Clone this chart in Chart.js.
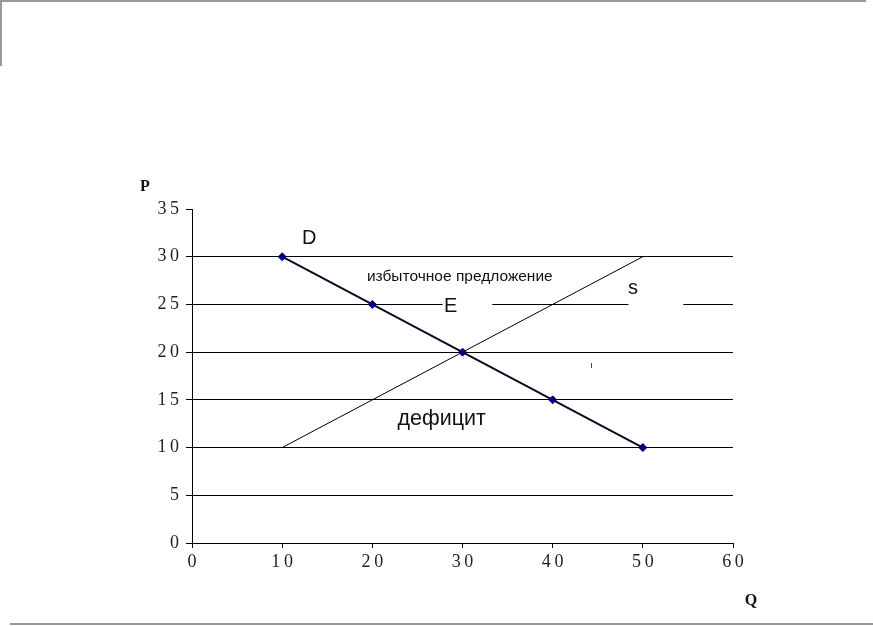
<!DOCTYPE html>
<html>
<head>
<meta charset="utf-8">
<script src="https://cdn.jsdelivr.net/npm/chart.js@4"></script>
<style>
  body { margin: 0; background: #fff; }
  #wrap { position: relative; width: 873px; height: 626px; }
  #topFrame { position: absolute; left: 0; top: 0; width: 864px; height: 64px;
              border-top: 2px solid #999; border-left: 2px solid #999; }
  #bottomLine { position: absolute; left: 10px; top: 623px; width: 863px; height: 0;
                border-top: 2px solid #999; }
  canvas { position: absolute; left: 0; top: 0; }
</style>
</head>
<body>
<div id="wrap">
  <canvas id="chart" width="873" height="626"></canvas>
  <div id="topFrame"></div>
  <div id="bottomLine"></div>
</div>
<script>
// Data
const demandQ = [10, 20, 30, 40, 50];
const demandP = [30, 25, 20, 15, 10];
const supplyQ = [10, 50];
const supplyP = [10, 30];
const xTicks = [0, 10, 20, 30, 40, 50, 60];
const yTicks = [0, 5, 10, 15, 20, 25, 30, 35];

// text labels placed in data coordinates
const notes = [
    { text: 'D', q: 13.0, p: 31.9, font: '20px "Liberation Sans"' },
    { text: 'избыточное предложение', q: 29.7, p: 27.9, font: '15.5px "Liberation Sans"' },
    { text: 'E', q: 28.7, p: 24.8, font: '20px "Liberation Sans"' },
    { text: 's', q: 48.9, p: 26.7, font: '20px "Liberation Sans"' },
    { text: 'дефицит', q: 27.7, p: 13.0, font: '21.5px "Liberation Sans"' },
    { text: 'ı', q: 44.3, p: 18.6, font: '9px "Liberation Sans"' }
];
// white label boxes that hide part of the 25 gridline
const boxes = [
    { q1: 27.8, q2: 33.3, p1: 24.2, p2: 25.8 },
    { q1: 48.4, q2: 54.5, p1: 24.2, p2: 27.5 }
];

const spaced = v => String(v).split('').join('\u2009');

const notesPlugin = {
    id: 'notes',
    beforeDatasetsDraw(chart) {
        const { ctx, scales: { x, y } } = chart;
        ctx.save();
        ctx.fillStyle = '#fff';
        boxes.forEach(b => {
            const x1 = x.getPixelForValue(b.q1), x2 = x.getPixelForValue(b.q2);
            const y1 = y.getPixelForValue(b.p2), y2 = y.getPixelForValue(b.p1);
            ctx.fillRect(x1, y1, x2 - x1, y2 - y1);
        });
        ctx.restore();
    },
    afterDatasetsDraw(chart) {
        const { ctx, scales: { x, y } } = chart;
        ctx.save();
        ctx.fillStyle = '#111';
        ctx.textAlign = 'center';
        ctx.textBaseline = 'middle';
        notes.forEach(n => {
            ctx.font = n.font;
            ctx.fillText(n.text, x.getPixelForValue(n.q), y.getPixelForValue(n.p));
        });
        // axis names
        ctx.font = 'bold 16px "Liberation Serif"';
        ctx.fillText('P', x.left - 47, y.top - 22);
        ctx.fillText('Q', x.right + 18, y.bottom + 58);
        ctx.restore();
    }
};

new Chart(document.getElementById('chart'), {
    type: 'scatter',
    data: {
        datasets: [{
            label: 'D',
            data: demandQ.map((q, i) => ({ x: q, y: demandP[i] })),
            showLine: true,
            borderColor: '#0a0a24',
            borderWidth: 2,
            pointStyle: 'rectRot',
            pointRadius: 4,
            pointBackgroundColor: '#000080',
            pointBorderColor: '#000080',
            pointBorderWidth: 1
        }, {
            label: 'S',
            data: supplyQ.map((q, i) => ({ x: q, y: supplyP[i] })),
            showLine: true,
            borderColor: '#000',
            borderWidth: 1,
            pointRadius: 0
        }]
    },
    options: {
        responsive: false,
        animation: false,
        layout: { padding: { left: 140, right: 140, top: 209, bottom: 50 } },
        plugins: {
            legend: { display: false },
            tooltip: { enabled: false }
        },
        scales: {
            x: {
                type: 'linear',
                min: 0,
                max: 60,
                afterBuildTicks: s => { s.ticks = xTicks.map(v => ({ value: v })); },
                afterFit: s => { s.height = 33; },
                border: { color: '#000', width: 1 },
                grid: { drawOnChartArea: false, drawTicks: true, tickLength: 5, tickColor: '#000' },
                ticks: {
                    callback: spaced,
                    color: '#222',
                    padding: 3,
                    maxRotation: 0,
                    font: { family: '"Liberation Serif"', size: 18 }
                }
            },
            y: {
                type: 'linear',
                min: 0,
                max: 35,
                afterBuildTicks: s => { s.ticks = yTicks.map(v => ({ value: v })); },
                afterFit: s => { s.width = 52; },
                border: { color: '#000', width: 1 },
                grid: {
                    color: c => (c.tick && c.tick.value === 35) ? 'rgba(0,0,0,0)' : '#000',
                    tickColor: '#000',
                    tickLength: 6,
                    lineWidth: 1
                },
                ticks: {
                    callback: spaced,
                    color: '#222',
                    padding: 7,
                    font: { family: '"Liberation Serif"', size: 18 }
                }
            }
        }
    },
    plugins: [notesPlugin]
});
</script>
</body>
</html>
